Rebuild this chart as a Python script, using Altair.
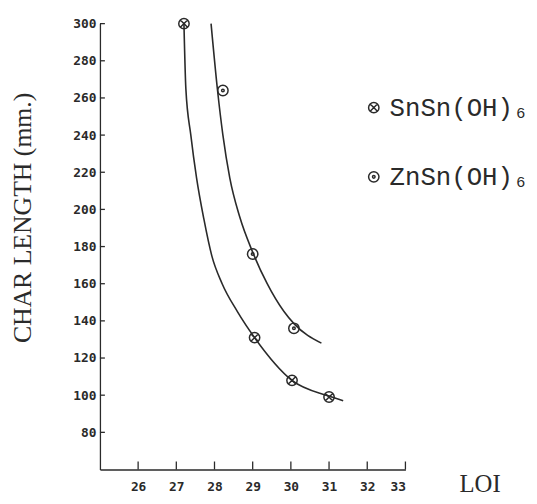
import altair as alt
import pandas as pd

# --- data ---
series_names = ["SnSn(OH)₆", "ZnSn(OH)₆"]

sn_loi = [27.2, 29.05, 30.03, 31.0]
sn_len = [300, 131, 108, 99]

zn_loi = [28.22, 29.0, 30.08]
zn_len = [264, 176, 136]

# hand-drawn fitted curves
sn_curve_x = [27.2, 27.25, 27.38, 27.53, 27.72, 27.93, 28.2, 28.6, 29.05, 30.03, 31.0, 31.37]
sn_curve_y = [300, 265, 240, 217, 195, 175, 160, 145, 131, 108, 99.5, 97]

zn_curve_x = [27.91, 28.08, 28.22, 28.4, 28.66, 29.0, 29.38, 29.82, 30.08, 30.8]
zn_curve_y = [300, 264, 240, 217, 196, 177, 160, 145, 138.5, 128]

x_ticks = [26, 27, 28, 29, 30, 31, 32, 33]
y_ticks = [80, 100, 120, 140, 160, 180, 200, 220, 240, 260, 280, 300]

X_DOMAIN = [25, 33]
Y_DOMAIN = [60, 300]

pts = pd.DataFrame(
    {"loi": sn_loi + zn_loi,
     "len": sn_len + zn_len,
     "series": [series_names[0]] * len(sn_loi) + [series_names[1]] * len(zn_loi)}
)
curves = pd.DataFrame(
    {"loi": sn_curve_x + zn_curve_x,
     "len": sn_curve_y + zn_curve_y,
     "series": [series_names[0]] * len(sn_curve_x) + [series_names[1]] * len(zn_curve_x)}
)
xt = pd.DataFrame({"v": x_ticks, "y0": Y_DOMAIN[0], "y1": Y_DOMAIN[0] + 4.3})
yt = pd.DataFrame({"v": y_ticks, "x0": X_DOMAIN[0], "x1": X_DOMAIN[0] + 0.13})

LABEL_FONT = "DejaVu Sans Mono"
SERIF = "Liberation Serif"
INK = "#2a2a2a"

xscale = alt.Scale(domain=X_DOMAIN, nice=False, zero=False)
yscale = alt.Scale(domain=Y_DOMAIN, nice=False, zero=False)

x_axis = alt.Axis(
    values=x_ticks, title="LOI", grid=False, ticks=False, domainColor=INK,
    domainWidth=1.3, labelFont=LABEL_FONT, labelFontWeight="bold", labelFontSize=13,
    labelColor=INK, labelPadding=11,
    titleFont=SERIF, titleFontSize=25, titleFontWeight="normal", titleColor=INK,
    titleAnchor="start", titleX=384, titleY=22, titleAlign="center", titleBaseline="alphabetic",
)
y_axis = alt.Axis(
    values=y_ticks, title="CHAR LENGTH (mm.)", grid=False, ticks=False, domainColor=INK,
    domainWidth=1.3, labelFont=LABEL_FONT, labelFontWeight="bold", labelFontSize=13,
    labelColor=INK, labelPadding=4,
    titleFont=SERIF, titleFontSize=26, titleFontWeight="normal", titleColor=INK,
    titleX=-78, titleY=196, titleAnchor="middle", titleAlign="center", titleBaseline="middle",
)

cross_circle = "M-1,0A1,1 0 1,0 1,0A1,1 0 1,0 -1,0M-0.7,-0.7L0.7,0.7M-0.7,0.7L0.7,-0.7"
dot_circle = "M-1,0A1,1 0 1,0 1,0A1,1 0 1,0 -1,0M-0.25,0A0.25,0.25 0 1,0 0.25,0A0.25,0.25 0 1,0 -0.25,0"

lines = alt.Chart(curves).mark_line(
    interpolate="monotone", color=INK, strokeWidth=1.6
).encode(
    x=alt.X("loi:Q", scale=xscale, axis=x_axis),
    y=alt.Y("len:Q", scale=yscale, axis=y_axis),
    detail="series:N",
)

points = alt.Chart(pts).mark_point(
    filled=False, color=INK, strokeWidth=1.5, size=110, opacity=1
).encode(
    x=alt.X("loi:Q", scale=xscale),
    y=alt.Y("len:Q", scale=yscale),
    shape=alt.Shape(
        "series:N",
        scale=alt.Scale(domain=series_names, range=[cross_circle, dot_circle]),
        legend=alt.Legend(
            title=None, orient="none", legendX=264, legendY=72,
            labelFont="Liberation Mono", labelFontSize=26, labelColor=INK,
            symbolStrokeColor=INK, symbolStrokeWidth=1.5, symbolSize=110,
            symbolFillColor="transparent", rowPadding=44, labelOffset=3,
        ),
    ),
)

xticks = alt.Chart(xt).mark_rule(color=INK, strokeWidth=1.3).encode(
    x=alt.X("v:Q", scale=xscale), y=alt.Y("y0:Q", scale=yscale), y2="y1:Q"
)
yticks = alt.Chart(yt).mark_rule(color=INK, strokeWidth=1.3).encode(
    y=alt.Y("v:Q", scale=yscale), x=alt.X("x0:Q", scale=xscale), x2="x1:Q"
)

chart = (
    alt.layer(xticks, yticks, lines, points)
    .properties(
        width=309, height=451,
        autosize=alt.AutoSizeParams(type="none"),
        padding={"left": 93, "top": 13, "right": 125, "bottom": 24},
        background="white",
    )
    .configure_view(stroke=None)
)

chart.save("out.html", embed_options={"renderer": "svg", "actions": False})
